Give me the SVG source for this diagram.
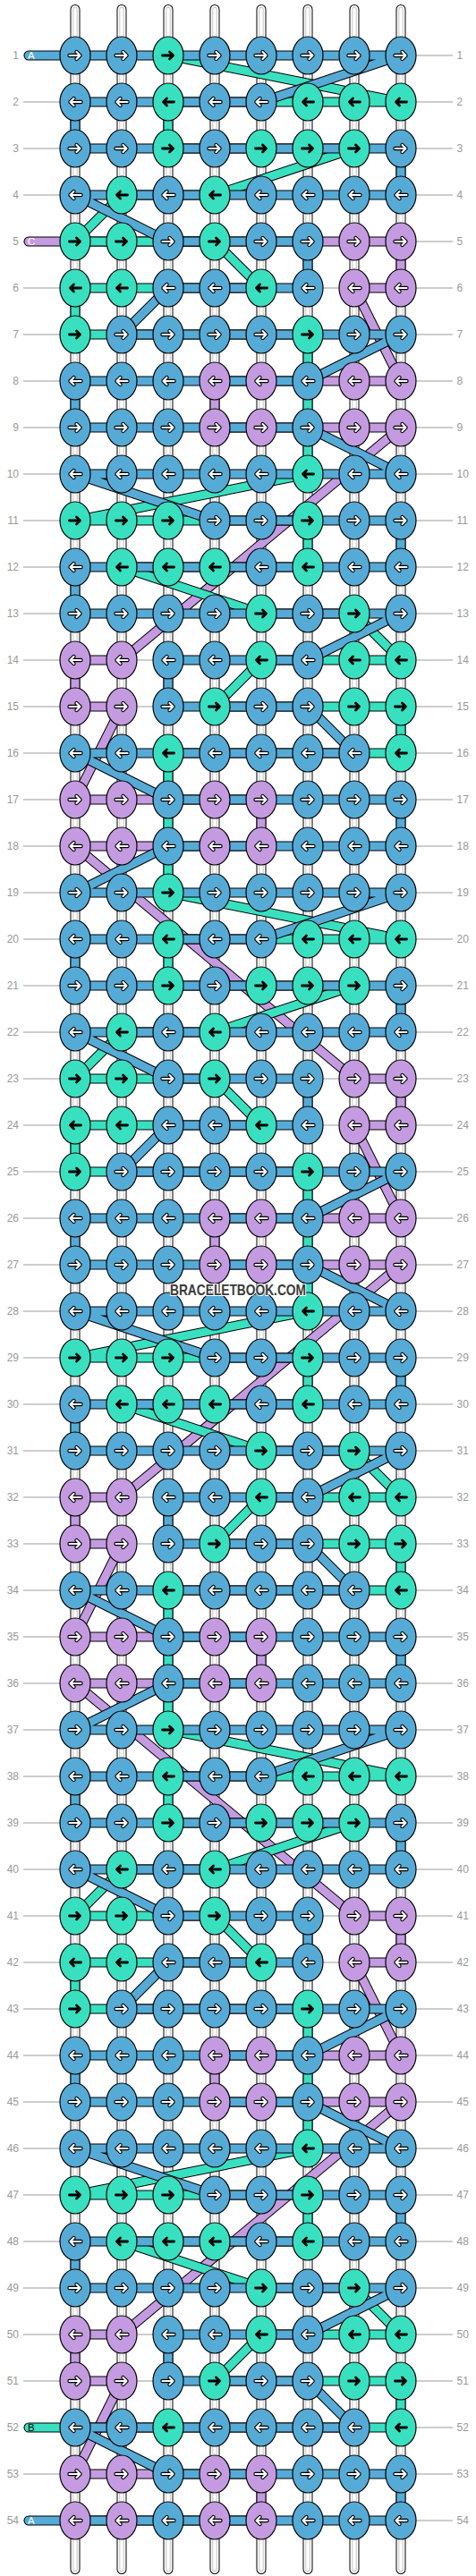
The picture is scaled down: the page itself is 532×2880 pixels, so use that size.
<svg xmlns="http://www.w3.org/2000/svg" width="532" height="2880" viewBox="0 0 532 2880">
<style>
.gl{fill:none;stroke:#bdbdbd;stroke-width:1.3}
.t0{fill:none;stroke:#000;stroke-width:11;stroke-linecap:round}
.t1{fill:none;stroke:#fff;stroke-width:9;stroke-linecap:round}
.t2{fill:none;stroke:#c4c4c4;stroke-width:5.4;stroke-linecap:round}
.t3{fill:none;stroke:#fff;stroke-width:3.4;stroke-linecap:round}
.o{fill:none;stroke:#000;stroke-width:11;stroke-linecap:round;stroke-linejoin:round}
.fb{fill:none;stroke:#56abd6;stroke-width:9;stroke-linecap:round;stroke-linejoin:round}
.fg{fill:none;stroke:#38e0c0;stroke-width:9;stroke-linecap:round;stroke-linejoin:round}
.fp{fill:none;stroke:#c49be0;stroke-width:9;stroke-linecap:round;stroke-linejoin:round}
.eb{fill:#56abd6;stroke:#000;stroke-width:1.2}
.eg{fill:#38e0c0;stroke:#000;stroke-width:1.2}
.ep{fill:#c49be0;stroke:#000;stroke-width:1.2}
.ao{fill:none;stroke:#000;stroke-width:4.4;stroke-linecap:round;stroke-linejoin:round}
.ai{fill:none;stroke:#fff;stroke-width:2.2;stroke-linecap:round;stroke-linejoin:round}
.ak{fill:none;stroke:#000;stroke-width:2.8;stroke-linecap:round;stroke-linejoin:round}
.ln{font-family:"Liberation Sans",Arial,sans-serif;font-size:12px;fill:#999}
.lt{font-family:"Liberation Sans",Arial,sans-serif;font-size:11.5px}
</style>
<defs>
<path id="ar" d="M-6.5 0H5.5M1.5-4L5.5 0L1.5 4"/>
<g id="aw"><use href="#ar" class="ao"/><use href="#ar" class="ai"/></g>
<g id="BR"><ellipse class="eb" rx="17" ry="21"/><use href="#aw"/></g>
<g id="BL"><ellipse class="eb" rx="17" ry="21"/><use href="#aw" transform="scale(-1,1)"/></g>
<g id="PR"><ellipse class="ep" rx="17" ry="21"/><use href="#aw"/></g>
<g id="PL"><ellipse class="ep" rx="17" ry="21"/><use href="#aw" transform="scale(-1,1)"/></g>
<g id="GR"><ellipse class="eg" rx="17" ry="21"/><use href="#ar" class="ak"/></g>
<g id="GL"><ellipse class="eg" rx="17" ry="21"/><use href="#ar" class="ak" transform="scale(-1,1)"/></g>
<path id="tubes" d="M84 10.5V2872.5M136 10.5V2872.5M188 10.5V2872.5M240 10.5V2872.5M292 10.5V2872.5M344 10.5V2872.5M396 10.5V2872.5M448 10.5V2872.5"/>
<path id="cb" d="M84 62H448L292 114H84V166H448V218H84L188 270H344V322H188L136 374H448L344 426H84V478H344L448 530H84L240 582H448V634H84V686H448L344 738H188V790H344L396 842H84L188 894H448V946H188"/>
<path id="cg" d="M188 62L448 114H188V166H396L240 218H136L84 270H240L292 322H84V374H344V530L84 582H344V634H136L292 686H396L448 738H292L240 790H448V842H188"/>
<path id="cp" d="M396 270H448V322H396L448 426H240V478H448L136 738H84V790H136L84 894H292V946H84"/>
<path id="xb" d="M188 946L84 998"/>
<path id="xg" d="M188 842V998"/>
<path id="xp" d="M84 946L396 1206"/>
</defs>
<rect width="532" height="2880" fill="#fff"/>
<g id="guides">
<path class="gl" d="M26 62H506M26 114H506M26 166H506M26 218H506M26 270H506M26 322H506M26 374H506M26 426H506M26 478H506M26 530H506M26 582H506M26 634H506M26 686H506M26 738H506M26 790H506M26 842H506M26 894H506M26 946H506M26 998H506M26 1050H506M26 1102H506M26 1154H506M26 1206H506M26 1258H506M26 1310H506M26 1362H506M26 1414H506M26 1466H506M26 1518H506M26 1570H506M26 1622H506M26 1674H506M26 1726H506M26 1778H506M26 1830H506M26 1882H506M26 1934H506M26 1986H506M26 2038H506M26 2090H506M26 2142H506M26 2194H506M26 2246H506M26 2298H506M26 2350H506M26 2402H506M26 2454H506M26 2506H506M26 2558H506M26 2610H506M26 2662H506M26 2714H506M26 2766H506M26 2818H506"/>
</g>
<g id="strings">
<use href="#tubes" class="t0"/><use href="#tubes" class="t1"/><use href="#tubes" class="t2"/><use href="#tubes" class="t3"/>
</g>
<g id="connectors">
<g id="thread-C">
<use href="#cp" class="o"/><use href="#cp" class="o" y="936"/><use href="#cp" class="o" y="1872"/>
<use href="#xp" class="o"/><use href="#xp" class="o" y="936"/>
<path class="o" d="M32 270H396"/>
<use href="#cp" class="fp"/><use href="#cp" class="fp" y="936"/><use href="#cp" class="fp" y="1872"/>
<use href="#xp" class="fp"/><use href="#xp" class="fp" y="936"/>
<path class="fp" d="M32 270H396"/>
</g>
<g id="thread-B">
<use href="#cg" class="o"/><use href="#cg" class="o" y="936"/><use href="#cg" class="o" y="1872"/>
<use href="#xg" class="o"/><use href="#xg" class="o" y="936"/>
<path class="o" d="M188 2714H32"/>
<use href="#cg" class="fg"/><use href="#cg" class="fg" y="936"/><use href="#cg" class="fg" y="1872"/>
<use href="#xg" class="fg"/><use href="#xg" class="fg" y="936"/>
<path class="fg" d="M188 2714H32"/>
</g>
<g id="thread-A">
<use href="#cb" class="o"/><use href="#cb" class="o" y="936"/><use href="#cb" class="o" y="1872"/>
<use href="#xb" class="o"/><use href="#xb" class="o" y="936"/>
<path class="o" d="M32 62H84M188 2818H32"/>
<use href="#cb" class="fb"/><use href="#cb" class="fb" y="936"/><use href="#cb" class="fb" y="1872"/>
<use href="#xb" class="fb"/><use href="#xb" class="fb" y="936"/>
<path class="fb" d="M32 62H84M188 2818H32"/>
</g>
</g>
<g id="thread-labels" class="lt">
<text x="31" y="66.2" fill="#fff">A</text>
<text x="31" y="274.2" fill="#fff">C</text>
<text x="31" y="2718.2" fill="#000">B</text>
<text x="31" y="2822.2" fill="#fff">A</text>
</g>
<g id="nodes">
<g id="row1" transform="translate(0,62)"><g id="n1_1"><use href="#BR" x="84"/></g><g id="n1_2"><use href="#BR" x="136"/></g><g id="n1_3"><use href="#GR" x="188"/></g><g id="n1_4"><use href="#BR" x="240"/></g><g id="n1_5"><use href="#BR" x="292"/></g><g id="n1_6"><use href="#BR" x="344"/></g><g id="n1_7"><use href="#BR" x="396"/></g><g id="n1_8"><use href="#BR" x="448"/></g></g>
<g id="row2" transform="translate(0,114)"><g id="n2_1"><use href="#BL" x="84"/></g><g id="n2_2"><use href="#BL" x="136"/></g><g id="n2_3"><use href="#GL" x="188"/></g><g id="n2_4"><use href="#BL" x="240"/></g><g id="n2_5"><use href="#BL" x="292"/></g><g id="n2_6"><use href="#GL" x="344"/></g><g id="n2_7"><use href="#GL" x="396"/></g><g id="n2_8"><use href="#GL" x="448"/></g></g>
<g id="row3" transform="translate(0,166)"><g id="n3_1"><use href="#BR" x="84"/></g><g id="n3_2"><use href="#BR" x="136"/></g><g id="n3_3"><use href="#GR" x="188"/></g><g id="n3_4"><use href="#BR" x="240"/></g><g id="n3_5"><use href="#GR" x="292"/></g><g id="n3_6"><use href="#GR" x="344"/></g><g id="n3_7"><use href="#GR" x="396"/></g><g id="n3_8"><use href="#BR" x="448"/></g></g>
<g id="row4" transform="translate(0,218)"><g id="n4_1"><use href="#BL" x="84"/></g><g id="n4_2"><use href="#GL" x="136"/></g><g id="n4_3"><use href="#BL" x="188"/></g><g id="n4_4"><use href="#GL" x="240"/></g><g id="n4_5"><use href="#BL" x="292"/></g><g id="n4_6"><use href="#BL" x="344"/></g><g id="n4_7"><use href="#BL" x="396"/></g><g id="n4_8"><use href="#BL" x="448"/></g></g>
<g id="row5" transform="translate(0,270)"><g id="n5_1"><use href="#GR" x="84"/></g><g id="n5_2"><use href="#GR" x="136"/></g><g id="n5_3"><use href="#BR" x="188"/></g><g id="n5_4"><use href="#GR" x="240"/></g><g id="n5_5"><use href="#BR" x="292"/></g><g id="n5_6"><use href="#BR" x="344"/></g><g id="n5_7"><use href="#PR" x="396"/></g><g id="n5_8"><use href="#PR" x="448"/></g></g>
<g id="row6" transform="translate(0,322)"><g id="n6_1"><use href="#GL" x="84"/></g><g id="n6_2"><use href="#GL" x="136"/></g><g id="n6_3"><use href="#BL" x="188"/></g><g id="n6_4"><use href="#BL" x="240"/></g><g id="n6_5"><use href="#GL" x="292"/></g><g id="n6_6"><use href="#BL" x="344"/></g><g id="n6_7"><use href="#PL" x="396"/></g><g id="n6_8"><use href="#PL" x="448"/></g></g>
<g id="row7" transform="translate(0,374)"><g id="n7_1"><use href="#GR" x="84"/></g><g id="n7_2"><use href="#BR" x="136"/></g><g id="n7_3"><use href="#BR" x="188"/></g><g id="n7_4"><use href="#BR" x="240"/></g><g id="n7_5"><use href="#BR" x="292"/></g><g id="n7_6"><use href="#GR" x="344"/></g><g id="n7_7"><use href="#BR" x="396"/></g><g id="n7_8"><use href="#BR" x="448"/></g></g>
<g id="row8" transform="translate(0,426)"><g id="n8_1"><use href="#BL" x="84"/></g><g id="n8_2"><use href="#BL" x="136"/></g><g id="n8_3"><use href="#BL" x="188"/></g><g id="n8_4"><use href="#PL" x="240"/></g><g id="n8_5"><use href="#PL" x="292"/></g><g id="n8_6"><use href="#BL" x="344"/></g><g id="n8_7"><use href="#PL" x="396"/></g><g id="n8_8"><use href="#PL" x="448"/></g></g>
<g id="row9" transform="translate(0,478)"><g id="n9_1"><use href="#BR" x="84"/></g><g id="n9_2"><use href="#BR" x="136"/></g><g id="n9_3"><use href="#BR" x="188"/></g><g id="n9_4"><use href="#PR" x="240"/></g><g id="n9_5"><use href="#PR" x="292"/></g><g id="n9_6"><use href="#BR" x="344"/></g><g id="n9_7"><use href="#PR" x="396"/></g><g id="n9_8"><use href="#PR" x="448"/></g></g>
<g id="row10" transform="translate(0,530)"><g id="n10_1"><use href="#BL" x="84"/></g><g id="n10_2"><use href="#BL" x="136"/></g><g id="n10_3"><use href="#BL" x="188"/></g><g id="n10_4"><use href="#BL" x="240"/></g><g id="n10_5"><use href="#BL" x="292"/></g><g id="n10_6"><use href="#GL" x="344"/></g><g id="n10_7"><use href="#BL" x="396"/></g><g id="n10_8"><use href="#BL" x="448"/></g></g>
<g id="row11" transform="translate(0,582)"><g id="n11_1"><use href="#GR" x="84"/></g><g id="n11_2"><use href="#GR" x="136"/></g><g id="n11_3"><use href="#GR" x="188"/></g><g id="n11_4"><use href="#BR" x="240"/></g><g id="n11_5"><use href="#BR" x="292"/></g><g id="n11_6"><use href="#GR" x="344"/></g><g id="n11_7"><use href="#BR" x="396"/></g><g id="n11_8"><use href="#BR" x="448"/></g></g>
<g id="row12" transform="translate(0,634)"><g id="n12_1"><use href="#BL" x="84"/></g><g id="n12_2"><use href="#GL" x="136"/></g><g id="n12_3"><use href="#GL" x="188"/></g><g id="n12_4"><use href="#GL" x="240"/></g><g id="n12_5"><use href="#BL" x="292"/></g><g id="n12_6"><use href="#GL" x="344"/></g><g id="n12_7"><use href="#BL" x="396"/></g><g id="n12_8"><use href="#BL" x="448"/></g></g>
<g id="row13" transform="translate(0,686)"><g id="n13_1"><use href="#BR" x="84"/></g><g id="n13_2"><use href="#BR" x="136"/></g><g id="n13_3"><use href="#BR" x="188"/></g><g id="n13_4"><use href="#BR" x="240"/></g><g id="n13_5"><use href="#GR" x="292"/></g><g id="n13_6"><use href="#BR" x="344"/></g><g id="n13_7"><use href="#GR" x="396"/></g><g id="n13_8"><use href="#BR" x="448"/></g></g>
<g id="row14" transform="translate(0,738)"><g id="n14_1"><use href="#PL" x="84"/></g><g id="n14_2"><use href="#PL" x="136"/></g><g id="n14_3"><use href="#BL" x="188"/></g><g id="n14_4"><use href="#BL" x="240"/></g><g id="n14_5"><use href="#GL" x="292"/></g><g id="n14_6"><use href="#BL" x="344"/></g><g id="n14_7"><use href="#GL" x="396"/></g><g id="n14_8"><use href="#GL" x="448"/></g></g>
<g id="row15" transform="translate(0,790)"><g id="n15_1"><use href="#PR" x="84"/></g><g id="n15_2"><use href="#PR" x="136"/></g><g id="n15_3"><use href="#BR" x="188"/></g><g id="n15_4"><use href="#GR" x="240"/></g><g id="n15_5"><use href="#BR" x="292"/></g><g id="n15_6"><use href="#BR" x="344"/></g><g id="n15_7"><use href="#GR" x="396"/></g><g id="n15_8"><use href="#GR" x="448"/></g></g>
<g id="row16" transform="translate(0,842)"><g id="n16_1"><use href="#BL" x="84"/></g><g id="n16_2"><use href="#BL" x="136"/></g><g id="n16_3"><use href="#GL" x="188"/></g><g id="n16_4"><use href="#BL" x="240"/></g><g id="n16_5"><use href="#BL" x="292"/></g><g id="n16_6"><use href="#BL" x="344"/></g><g id="n16_7"><use href="#BL" x="396"/></g><g id="n16_8"><use href="#GL" x="448"/></g></g>
<g id="row17" transform="translate(0,894)"><g id="n17_1"><use href="#PR" x="84"/></g><g id="n17_2"><use href="#PR" x="136"/></g><g id="n17_3"><use href="#BR" x="188"/></g><g id="n17_4"><use href="#PR" x="240"/></g><g id="n17_5"><use href="#PR" x="292"/></g><g id="n17_6"><use href="#BR" x="344"/></g><g id="n17_7"><use href="#BR" x="396"/></g><g id="n17_8"><use href="#BR" x="448"/></g></g>
<g id="row18" transform="translate(0,946)"><g id="n18_1"><use href="#PL" x="84"/></g><g id="n18_2"><use href="#PL" x="136"/></g><g id="n18_3"><use href="#BL" x="188"/></g><g id="n18_4"><use href="#PL" x="240"/></g><g id="n18_5"><use href="#PL" x="292"/></g><g id="n18_6"><use href="#BL" x="344"/></g><g id="n18_7"><use href="#BL" x="396"/></g><g id="n18_8"><use href="#BL" x="448"/></g></g>
<g id="row19" transform="translate(0,998)"><g id="n19_1"><use href="#BR" x="84"/></g><g id="n19_2"><use href="#BR" x="136"/></g><g id="n19_3"><use href="#GR" x="188"/></g><g id="n19_4"><use href="#BR" x="240"/></g><g id="n19_5"><use href="#BR" x="292"/></g><g id="n19_6"><use href="#BR" x="344"/></g><g id="n19_7"><use href="#BR" x="396"/></g><g id="n19_8"><use href="#BR" x="448"/></g></g>
<g id="row20" transform="translate(0,1050)"><g id="n20_1"><use href="#BL" x="84"/></g><g id="n20_2"><use href="#BL" x="136"/></g><g id="n20_3"><use href="#GL" x="188"/></g><g id="n20_4"><use href="#BL" x="240"/></g><g id="n20_5"><use href="#BL" x="292"/></g><g id="n20_6"><use href="#GL" x="344"/></g><g id="n20_7"><use href="#GL" x="396"/></g><g id="n20_8"><use href="#GL" x="448"/></g></g>
<g id="row21" transform="translate(0,1102)"><g id="n21_1"><use href="#BR" x="84"/></g><g id="n21_2"><use href="#BR" x="136"/></g><g id="n21_3"><use href="#GR" x="188"/></g><g id="n21_4"><use href="#BR" x="240"/></g><g id="n21_5"><use href="#GR" x="292"/></g><g id="n21_6"><use href="#GR" x="344"/></g><g id="n21_7"><use href="#GR" x="396"/></g><g id="n21_8"><use href="#BR" x="448"/></g></g>
<g id="row22" transform="translate(0,1154)"><g id="n22_1"><use href="#BL" x="84"/></g><g id="n22_2"><use href="#GL" x="136"/></g><g id="n22_3"><use href="#BL" x="188"/></g><g id="n22_4"><use href="#GL" x="240"/></g><g id="n22_5"><use href="#BL" x="292"/></g><g id="n22_6"><use href="#BL" x="344"/></g><g id="n22_7"><use href="#BL" x="396"/></g><g id="n22_8"><use href="#BL" x="448"/></g></g>
<g id="row23" transform="translate(0,1206)"><g id="n23_1"><use href="#GR" x="84"/></g><g id="n23_2"><use href="#GR" x="136"/></g><g id="n23_3"><use href="#BR" x="188"/></g><g id="n23_4"><use href="#GR" x="240"/></g><g id="n23_5"><use href="#BR" x="292"/></g><g id="n23_6"><use href="#BR" x="344"/></g><g id="n23_7"><use href="#PR" x="396"/></g><g id="n23_8"><use href="#PR" x="448"/></g></g>
<g id="row24" transform="translate(0,1258)"><g id="n24_1"><use href="#GL" x="84"/></g><g id="n24_2"><use href="#GL" x="136"/></g><g id="n24_3"><use href="#BL" x="188"/></g><g id="n24_4"><use href="#BL" x="240"/></g><g id="n24_5"><use href="#GL" x="292"/></g><g id="n24_6"><use href="#BL" x="344"/></g><g id="n24_7"><use href="#PL" x="396"/></g><g id="n24_8"><use href="#PL" x="448"/></g></g>
<g id="row25" transform="translate(0,1310)"><g id="n25_1"><use href="#GR" x="84"/></g><g id="n25_2"><use href="#BR" x="136"/></g><g id="n25_3"><use href="#BR" x="188"/></g><g id="n25_4"><use href="#BR" x="240"/></g><g id="n25_5"><use href="#BR" x="292"/></g><g id="n25_6"><use href="#GR" x="344"/></g><g id="n25_7"><use href="#BR" x="396"/></g><g id="n25_8"><use href="#BR" x="448"/></g></g>
<g id="row26" transform="translate(0,1362)"><g id="n26_1"><use href="#BL" x="84"/></g><g id="n26_2"><use href="#BL" x="136"/></g><g id="n26_3"><use href="#BL" x="188"/></g><g id="n26_4"><use href="#PL" x="240"/></g><g id="n26_5"><use href="#PL" x="292"/></g><g id="n26_6"><use href="#BL" x="344"/></g><g id="n26_7"><use href="#PL" x="396"/></g><g id="n26_8"><use href="#PL" x="448"/></g></g>
<g id="row27" transform="translate(0,1414)"><g id="n27_1"><use href="#BR" x="84"/></g><g id="n27_2"><use href="#BR" x="136"/></g><g id="n27_3"><use href="#BR" x="188"/></g><g id="n27_4"><use href="#PR" x="240"/></g><g id="n27_5"><use href="#PR" x="292"/></g><g id="n27_6"><use href="#BR" x="344"/></g><g id="n27_7"><use href="#PR" x="396"/></g><g id="n27_8"><use href="#PR" x="448"/></g></g>
<g id="row28" transform="translate(0,1466)"><g id="n28_1"><use href="#BL" x="84"/></g><g id="n28_2"><use href="#BL" x="136"/></g><g id="n28_3"><use href="#BL" x="188"/></g><g id="n28_4"><use href="#BL" x="240"/></g><g id="n28_5"><use href="#BL" x="292"/></g><g id="n28_6"><use href="#GL" x="344"/></g><g id="n28_7"><use href="#BL" x="396"/></g><g id="n28_8"><use href="#BL" x="448"/></g></g>
<g id="row29" transform="translate(0,1518)"><g id="n29_1"><use href="#GR" x="84"/></g><g id="n29_2"><use href="#GR" x="136"/></g><g id="n29_3"><use href="#GR" x="188"/></g><g id="n29_4"><use href="#BR" x="240"/></g><g id="n29_5"><use href="#BR" x="292"/></g><g id="n29_6"><use href="#GR" x="344"/></g><g id="n29_7"><use href="#BR" x="396"/></g><g id="n29_8"><use href="#BR" x="448"/></g></g>
<g id="row30" transform="translate(0,1570)"><g id="n30_1"><use href="#BL" x="84"/></g><g id="n30_2"><use href="#GL" x="136"/></g><g id="n30_3"><use href="#GL" x="188"/></g><g id="n30_4"><use href="#GL" x="240"/></g><g id="n30_5"><use href="#BL" x="292"/></g><g id="n30_6"><use href="#GL" x="344"/></g><g id="n30_7"><use href="#BL" x="396"/></g><g id="n30_8"><use href="#BL" x="448"/></g></g>
<g id="row31" transform="translate(0,1622)"><g id="n31_1"><use href="#BR" x="84"/></g><g id="n31_2"><use href="#BR" x="136"/></g><g id="n31_3"><use href="#BR" x="188"/></g><g id="n31_4"><use href="#BR" x="240"/></g><g id="n31_5"><use href="#GR" x="292"/></g><g id="n31_6"><use href="#BR" x="344"/></g><g id="n31_7"><use href="#GR" x="396"/></g><g id="n31_8"><use href="#BR" x="448"/></g></g>
<g id="row32" transform="translate(0,1674)"><g id="n32_1"><use href="#PL" x="84"/></g><g id="n32_2"><use href="#PL" x="136"/></g><g id="n32_3"><use href="#BL" x="188"/></g><g id="n32_4"><use href="#BL" x="240"/></g><g id="n32_5"><use href="#GL" x="292"/></g><g id="n32_6"><use href="#BL" x="344"/></g><g id="n32_7"><use href="#GL" x="396"/></g><g id="n32_8"><use href="#GL" x="448"/></g></g>
<g id="row33" transform="translate(0,1726)"><g id="n33_1"><use href="#PR" x="84"/></g><g id="n33_2"><use href="#PR" x="136"/></g><g id="n33_3"><use href="#BR" x="188"/></g><g id="n33_4"><use href="#GR" x="240"/></g><g id="n33_5"><use href="#BR" x="292"/></g><g id="n33_6"><use href="#BR" x="344"/></g><g id="n33_7"><use href="#GR" x="396"/></g><g id="n33_8"><use href="#GR" x="448"/></g></g>
<g id="row34" transform="translate(0,1778)"><g id="n34_1"><use href="#BL" x="84"/></g><g id="n34_2"><use href="#BL" x="136"/></g><g id="n34_3"><use href="#GL" x="188"/></g><g id="n34_4"><use href="#BL" x="240"/></g><g id="n34_5"><use href="#BL" x="292"/></g><g id="n34_6"><use href="#BL" x="344"/></g><g id="n34_7"><use href="#BL" x="396"/></g><g id="n34_8"><use href="#GL" x="448"/></g></g>
<g id="row35" transform="translate(0,1830)"><g id="n35_1"><use href="#PR" x="84"/></g><g id="n35_2"><use href="#PR" x="136"/></g><g id="n35_3"><use href="#BR" x="188"/></g><g id="n35_4"><use href="#PR" x="240"/></g><g id="n35_5"><use href="#PR" x="292"/></g><g id="n35_6"><use href="#BR" x="344"/></g><g id="n35_7"><use href="#BR" x="396"/></g><g id="n35_8"><use href="#BR" x="448"/></g></g>
<g id="row36" transform="translate(0,1882)"><g id="n36_1"><use href="#PL" x="84"/></g><g id="n36_2"><use href="#PL" x="136"/></g><g id="n36_3"><use href="#BL" x="188"/></g><g id="n36_4"><use href="#PL" x="240"/></g><g id="n36_5"><use href="#PL" x="292"/></g><g id="n36_6"><use href="#BL" x="344"/></g><g id="n36_7"><use href="#BL" x="396"/></g><g id="n36_8"><use href="#BL" x="448"/></g></g>
<g id="row37" transform="translate(0,1934)"><g id="n37_1"><use href="#BR" x="84"/></g><g id="n37_2"><use href="#BR" x="136"/></g><g id="n37_3"><use href="#GR" x="188"/></g><g id="n37_4"><use href="#BR" x="240"/></g><g id="n37_5"><use href="#BR" x="292"/></g><g id="n37_6"><use href="#BR" x="344"/></g><g id="n37_7"><use href="#BR" x="396"/></g><g id="n37_8"><use href="#BR" x="448"/></g></g>
<g id="row38" transform="translate(0,1986)"><g id="n38_1"><use href="#BL" x="84"/></g><g id="n38_2"><use href="#BL" x="136"/></g><g id="n38_3"><use href="#GL" x="188"/></g><g id="n38_4"><use href="#BL" x="240"/></g><g id="n38_5"><use href="#BL" x="292"/></g><g id="n38_6"><use href="#GL" x="344"/></g><g id="n38_7"><use href="#GL" x="396"/></g><g id="n38_8"><use href="#GL" x="448"/></g></g>
<g id="row39" transform="translate(0,2038)"><g id="n39_1"><use href="#BR" x="84"/></g><g id="n39_2"><use href="#BR" x="136"/></g><g id="n39_3"><use href="#GR" x="188"/></g><g id="n39_4"><use href="#BR" x="240"/></g><g id="n39_5"><use href="#GR" x="292"/></g><g id="n39_6"><use href="#GR" x="344"/></g><g id="n39_7"><use href="#GR" x="396"/></g><g id="n39_8"><use href="#BR" x="448"/></g></g>
<g id="row40" transform="translate(0,2090)"><g id="n40_1"><use href="#BL" x="84"/></g><g id="n40_2"><use href="#GL" x="136"/></g><g id="n40_3"><use href="#BL" x="188"/></g><g id="n40_4"><use href="#GL" x="240"/></g><g id="n40_5"><use href="#BL" x="292"/></g><g id="n40_6"><use href="#BL" x="344"/></g><g id="n40_7"><use href="#BL" x="396"/></g><g id="n40_8"><use href="#BL" x="448"/></g></g>
<g id="row41" transform="translate(0,2142)"><g id="n41_1"><use href="#GR" x="84"/></g><g id="n41_2"><use href="#GR" x="136"/></g><g id="n41_3"><use href="#BR" x="188"/></g><g id="n41_4"><use href="#GR" x="240"/></g><g id="n41_5"><use href="#BR" x="292"/></g><g id="n41_6"><use href="#BR" x="344"/></g><g id="n41_7"><use href="#PR" x="396"/></g><g id="n41_8"><use href="#PR" x="448"/></g></g>
<g id="row42" transform="translate(0,2194)"><g id="n42_1"><use href="#GL" x="84"/></g><g id="n42_2"><use href="#GL" x="136"/></g><g id="n42_3"><use href="#BL" x="188"/></g><g id="n42_4"><use href="#BL" x="240"/></g><g id="n42_5"><use href="#GL" x="292"/></g><g id="n42_6"><use href="#BL" x="344"/></g><g id="n42_7"><use href="#PL" x="396"/></g><g id="n42_8"><use href="#PL" x="448"/></g></g>
<g id="row43" transform="translate(0,2246)"><g id="n43_1"><use href="#GR" x="84"/></g><g id="n43_2"><use href="#BR" x="136"/></g><g id="n43_3"><use href="#BR" x="188"/></g><g id="n43_4"><use href="#BR" x="240"/></g><g id="n43_5"><use href="#BR" x="292"/></g><g id="n43_6"><use href="#GR" x="344"/></g><g id="n43_7"><use href="#BR" x="396"/></g><g id="n43_8"><use href="#BR" x="448"/></g></g>
<g id="row44" transform="translate(0,2298)"><g id="n44_1"><use href="#BL" x="84"/></g><g id="n44_2"><use href="#BL" x="136"/></g><g id="n44_3"><use href="#BL" x="188"/></g><g id="n44_4"><use href="#PL" x="240"/></g><g id="n44_5"><use href="#PL" x="292"/></g><g id="n44_6"><use href="#BL" x="344"/></g><g id="n44_7"><use href="#PL" x="396"/></g><g id="n44_8"><use href="#PL" x="448"/></g></g>
<g id="row45" transform="translate(0,2350)"><g id="n45_1"><use href="#BR" x="84"/></g><g id="n45_2"><use href="#BR" x="136"/></g><g id="n45_3"><use href="#BR" x="188"/></g><g id="n45_4"><use href="#PR" x="240"/></g><g id="n45_5"><use href="#PR" x="292"/></g><g id="n45_6"><use href="#BR" x="344"/></g><g id="n45_7"><use href="#PR" x="396"/></g><g id="n45_8"><use href="#PR" x="448"/></g></g>
<g id="row46" transform="translate(0,2402)"><g id="n46_1"><use href="#BL" x="84"/></g><g id="n46_2"><use href="#BL" x="136"/></g><g id="n46_3"><use href="#BL" x="188"/></g><g id="n46_4"><use href="#BL" x="240"/></g><g id="n46_5"><use href="#BL" x="292"/></g><g id="n46_6"><use href="#GL" x="344"/></g><g id="n46_7"><use href="#BL" x="396"/></g><g id="n46_8"><use href="#BL" x="448"/></g></g>
<g id="row47" transform="translate(0,2454)"><g id="n47_1"><use href="#GR" x="84"/></g><g id="n47_2"><use href="#GR" x="136"/></g><g id="n47_3"><use href="#GR" x="188"/></g><g id="n47_4"><use href="#BR" x="240"/></g><g id="n47_5"><use href="#BR" x="292"/></g><g id="n47_6"><use href="#GR" x="344"/></g><g id="n47_7"><use href="#BR" x="396"/></g><g id="n47_8"><use href="#BR" x="448"/></g></g>
<g id="row48" transform="translate(0,2506)"><g id="n48_1"><use href="#BL" x="84"/></g><g id="n48_2"><use href="#GL" x="136"/></g><g id="n48_3"><use href="#GL" x="188"/></g><g id="n48_4"><use href="#GL" x="240"/></g><g id="n48_5"><use href="#BL" x="292"/></g><g id="n48_6"><use href="#GL" x="344"/></g><g id="n48_7"><use href="#BL" x="396"/></g><g id="n48_8"><use href="#BL" x="448"/></g></g>
<g id="row49" transform="translate(0,2558)"><g id="n49_1"><use href="#BR" x="84"/></g><g id="n49_2"><use href="#BR" x="136"/></g><g id="n49_3"><use href="#BR" x="188"/></g><g id="n49_4"><use href="#BR" x="240"/></g><g id="n49_5"><use href="#GR" x="292"/></g><g id="n49_6"><use href="#BR" x="344"/></g><g id="n49_7"><use href="#GR" x="396"/></g><g id="n49_8"><use href="#BR" x="448"/></g></g>
<g id="row50" transform="translate(0,2610)"><g id="n50_1"><use href="#PL" x="84"/></g><g id="n50_2"><use href="#PL" x="136"/></g><g id="n50_3"><use href="#BL" x="188"/></g><g id="n50_4"><use href="#BL" x="240"/></g><g id="n50_5"><use href="#GL" x="292"/></g><g id="n50_6"><use href="#BL" x="344"/></g><g id="n50_7"><use href="#GL" x="396"/></g><g id="n50_8"><use href="#GL" x="448"/></g></g>
<g id="row51" transform="translate(0,2662)"><g id="n51_1"><use href="#PR" x="84"/></g><g id="n51_2"><use href="#PR" x="136"/></g><g id="n51_3"><use href="#BR" x="188"/></g><g id="n51_4"><use href="#GR" x="240"/></g><g id="n51_5"><use href="#BR" x="292"/></g><g id="n51_6"><use href="#BR" x="344"/></g><g id="n51_7"><use href="#GR" x="396"/></g><g id="n51_8"><use href="#GR" x="448"/></g></g>
<g id="row52" transform="translate(0,2714)"><g id="n52_1"><use href="#BL" x="84"/></g><g id="n52_2"><use href="#BL" x="136"/></g><g id="n52_3"><use href="#GL" x="188"/></g><g id="n52_4"><use href="#BL" x="240"/></g><g id="n52_5"><use href="#BL" x="292"/></g><g id="n52_6"><use href="#BL" x="344"/></g><g id="n52_7"><use href="#BL" x="396"/></g><g id="n52_8"><use href="#GL" x="448"/></g></g>
<g id="row53" transform="translate(0,2766)"><g id="n53_1"><use href="#PR" x="84"/></g><g id="n53_2"><use href="#PR" x="136"/></g><g id="n53_3"><use href="#BR" x="188"/></g><g id="n53_4"><use href="#PR" x="240"/></g><g id="n53_5"><use href="#PR" x="292"/></g><g id="n53_6"><use href="#BR" x="344"/></g><g id="n53_7"><use href="#BR" x="396"/></g><g id="n53_8"><use href="#BR" x="448"/></g></g>
<g id="row54" transform="translate(0,2818)"><g id="n54_1"><use href="#PL" x="84"/></g><g id="n54_2"><use href="#PL" x="136"/></g><g id="n54_3"><use href="#BL" x="188"/></g><g id="n54_4"><use href="#PL" x="240"/></g><g id="n54_5"><use href="#PL" x="292"/></g><g id="n54_6"><use href="#BL" x="344"/></g><g id="n54_7"><use href="#BL" x="396"/></g><g id="n54_8"><use href="#BL" x="448"/></g></g>
</g>
<g id="row-numbers-left" class="ln" text-anchor="end">
<text x="21" y="66">1</text><text x="21" y="118">2</text><text x="21" y="170">3</text><text x="21" y="222">4</text><text x="21" y="274">5</text><text x="21" y="326">6</text><text x="21" y="378">7</text><text x="21" y="430">8</text><text x="21" y="482">9</text><text x="21" y="534">10</text><text x="21" y="586">11</text><text x="21" y="638">12</text><text x="21" y="690">13</text><text x="21" y="742">14</text><text x="21" y="794">15</text><text x="21" y="846">16</text><text x="21" y="898">17</text><text x="21" y="950">18</text><text x="21" y="1002">19</text><text x="21" y="1054">20</text><text x="21" y="1106">21</text><text x="21" y="1158">22</text><text x="21" y="1210">23</text><text x="21" y="1262">24</text><text x="21" y="1314">25</text><text x="21" y="1366">26</text><text x="21" y="1418">27</text><text x="21" y="1470">28</text><text x="21" y="1522">29</text><text x="21" y="1574">30</text><text x="21" y="1626">31</text><text x="21" y="1678">32</text><text x="21" y="1730">33</text><text x="21" y="1782">34</text><text x="21" y="1834">35</text><text x="21" y="1886">36</text><text x="21" y="1938">37</text><text x="21" y="1990">38</text><text x="21" y="2042">39</text><text x="21" y="2094">40</text><text x="21" y="2146">41</text><text x="21" y="2198">42</text><text x="21" y="2250">43</text><text x="21" y="2302">44</text><text x="21" y="2354">45</text><text x="21" y="2406">46</text><text x="21" y="2458">47</text><text x="21" y="2510">48</text><text x="21" y="2562">49</text><text x="21" y="2614">50</text><text x="21" y="2666">51</text><text x="21" y="2718">52</text><text x="21" y="2770">53</text><text x="21" y="2822">54</text>
</g>
<g id="row-numbers-right" class="ln">
<text x="510.5" y="66">1</text><text x="510.5" y="118">2</text><text x="510.5" y="170">3</text><text x="510.5" y="222">4</text><text x="510.5" y="274">5</text><text x="510.5" y="326">6</text><text x="510.5" y="378">7</text><text x="510.5" y="430">8</text><text x="510.5" y="482">9</text><text x="510.5" y="534">10</text><text x="510.5" y="586">11</text><text x="510.5" y="638">12</text><text x="510.5" y="690">13</text><text x="510.5" y="742">14</text><text x="510.5" y="794">15</text><text x="510.5" y="846">16</text><text x="510.5" y="898">17</text><text x="510.5" y="950">18</text><text x="510.5" y="1002">19</text><text x="510.5" y="1054">20</text><text x="510.5" y="1106">21</text><text x="510.5" y="1158">22</text><text x="510.5" y="1210">23</text><text x="510.5" y="1262">24</text><text x="510.5" y="1314">25</text><text x="510.5" y="1366">26</text><text x="510.5" y="1418">27</text><text x="510.5" y="1470">28</text><text x="510.5" y="1522">29</text><text x="510.5" y="1574">30</text><text x="510.5" y="1626">31</text><text x="510.5" y="1678">32</text><text x="510.5" y="1730">33</text><text x="510.5" y="1782">34</text><text x="510.5" y="1834">35</text><text x="510.5" y="1886">36</text><text x="510.5" y="1938">37</text><text x="510.5" y="1990">38</text><text x="510.5" y="2042">39</text><text x="510.5" y="2094">40</text><text x="510.5" y="2146">41</text><text x="510.5" y="2198">42</text><text x="510.5" y="2250">43</text><text x="510.5" y="2302">44</text><text x="510.5" y="2354">45</text><text x="510.5" y="2406">46</text><text x="510.5" y="2458">47</text><text x="510.5" y="2510">48</text><text x="510.5" y="2562">49</text><text x="510.5" y="2614">50</text><text x="510.5" y="2666">51</text><text x="510.5" y="2718">52</text><text x="510.5" y="2770">53</text><text x="510.5" y="2822">54</text>
</g>
<text id="watermark" x="266" y="1447.5" text-anchor="middle" font-family="Liberation Sans, Arial, sans-serif" font-weight="bold" font-size="17" textLength="152" lengthAdjust="spacingAndGlyphs" fill="#3a3a3a" stroke="#fff" stroke-width="2" paint-order="stroke">BRACELETBOOK.COM</text>
</svg>
